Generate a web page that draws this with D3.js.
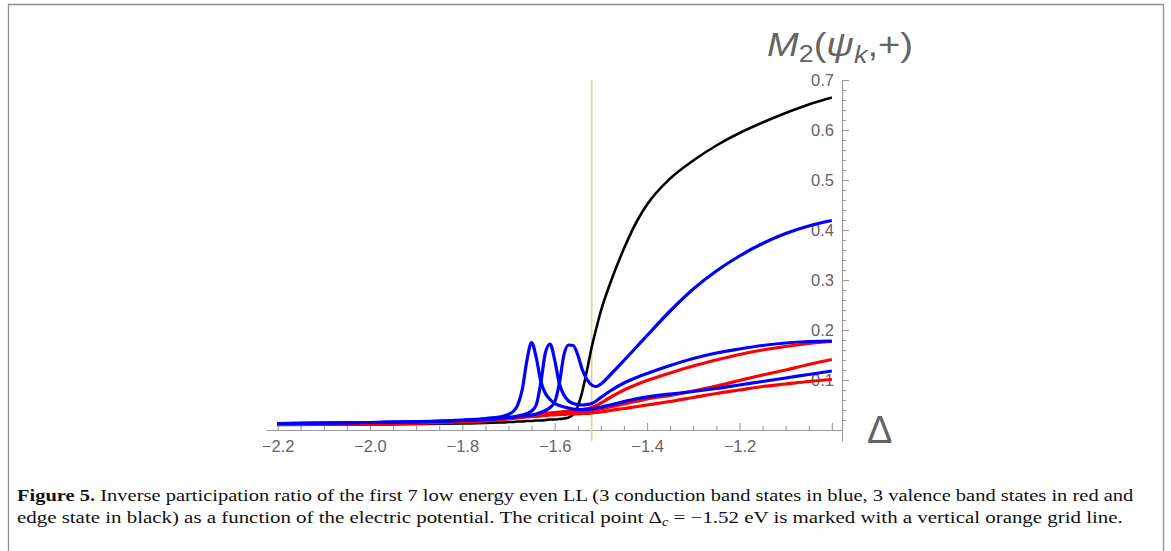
<!DOCTYPE html>
<html>
<head>
<meta charset="utf-8">
<script src="https://cdn.jsdelivr.net/npm/d3@7"></script>
<style>
  html, body { margin: 0; padding: 0; background: #fff; }
  svg { display: block; }
</style>
</head>
<body>
<svg id="fig" width="1171" height="551"></svg>
<script>
// Electric potential Δ (eV) at which the inverse participation ratio was sampled
const delta = [-2.2, -2.0, -1.8, -1.75, -1.72, -1.71, -1.7, -1.69, -1.68, -1.67, -1.66, -1.65,
  -1.64, -1.63, -1.62, -1.61, -1.6, -1.59, -1.58, -1.57, -1.56, -1.55, -1.54, -1.53, -1.52,
  -1.51, -1.5, -1.48, -1.45, -1.42, -1.4, -1.35, -1.3, -1.25, -1.2, -1.15, -1.1, -1.05, -1.0];

// Conduction band states (blue)
const conduction1 = [0.013, 0.015, 0.02, 0.023, 0.026, 0.028, 0.031, 0.037, 0.05, 0.082, 0.14, 0.175,
  0.145, 0.097, 0.073, 0.061, 0.053, 0.049, 0.046, 0.044, 0.042, 0.041, 0.041, 0.041, 0.042,
  0.044, 0.046, 0.05, 0.057, 0.063, 0.066, 0.072, 0.077, 0.083, 0.09, 0.097, 0.104, 0.111, 0.118];
const conduction2 = [0.013, 0.015, 0.019, 0.021, 0.023, 0.024, 0.025, 0.026, 0.028, 0.03, 0.033, 0.038,
  0.05, 0.095, 0.155, 0.172, 0.14, 0.093, 0.07, 0.058, 0.053, 0.051, 0.05, 0.051, 0.053,
  0.058, 0.065, 0.078, 0.094, 0.106, 0.113, 0.129, 0.143, 0.154, 0.162, 0.169, 0.174, 0.177, 0.178];
const conduction3 = [0.013, 0.015, 0.019, 0.021, 0.023, 0.024, 0.025, 0.026, 0.027, 0.028, 0.029, 0.03,
  0.032, 0.035, 0.039, 0.045, 0.056, 0.093, 0.15, 0.17, 0.169, 0.15, 0.12, 0.101, 0.09,
  0.087, 0.092, 0.11, 0.139, 0.169, 0.189, 0.238, 0.282, 0.318, 0.348, 0.373, 0.393, 0.408, 0.419];

// Valence band states (red)
const valence1 = [0.012, 0.014, 0.018, 0.02, 0.022, 0.023, 0.024, 0.025, 0.026, 0.027, 0.028, 0.029,
  0.03, 0.031, 0.033, 0.034, 0.035, 0.036, 0.037, 0.038, 0.039, 0.04, 0.041, 0.043, 0.045,
  0.049, 0.054, 0.065, 0.08, 0.092, 0.099, 0.114, 0.128, 0.14, 0.151, 0.16, 0.167, 0.173, 0.177];
const valence2 = [0.012, 0.013, 0.017, 0.019, 0.021, 0.022, 0.023, 0.024, 0.025, 0.026, 0.027, 0.028,
  0.029, 0.03, 0.031, 0.032, 0.033, 0.033, 0.034, 0.034, 0.035, 0.035, 0.036, 0.037, 0.038,
  0.04, 0.042, 0.046, 0.052, 0.058, 0.062, 0.069, 0.078, 0.088, 0.099, 0.11, 0.12, 0.131, 0.141];
const valence3 = [0.011, 0.012, 0.016, 0.018, 0.02, 0.021, 0.022, 0.023, 0.024, 0.025, 0.026, 0.027,
  0.027, 0.028, 0.029, 0.03, 0.03, 0.031, 0.031, 0.032, 0.032, 0.032, 0.033, 0.033, 0.034,
  0.035, 0.036, 0.039, 0.043, 0.047, 0.05, 0.057, 0.065, 0.073, 0.08, 0.087, 0.092, 0.097, 0.101];

// Edge state (black)
const edgeState = [0.01, 0.011, 0.013, 0.014, 0.015, 0.015, 0.016, 0.016, 0.017, 0.017, 0.018, 0.018,
  0.019, 0.019, 0.02, 0.021, 0.021, 0.022, 0.023, 0.025, 0.031, 0.047, 0.078, 0.12, 0.165,
  0.203, 0.238, 0.293, 0.363, 0.421, 0.451, 0.503, 0.539, 0.569, 0.594, 0.615, 0.634, 0.651, 0.665];

// Critical point Δc
const criticalDelta = -1.52;

// Tick values
const xMajorTicks = [-2.2, -2.0, -1.8, -1.6, -1.4, -1.2, -1.0];
const xMinorTicks = d3.range(-2.15, -1.0, 0.05).map(v => +v.toFixed(2)).filter(v => !xMajorTicks.some(m => Math.abs(m - v) < 1e-6));
const yMajorTicks = [0.1, 0.2, 0.3, 0.4, 0.5, 0.6, 0.7];
const yMinorTicks = d3.range(0.02, 0.7, 0.02).map(v => +v.toFixed(2)).filter(v => !yMajorTicks.some(m => Math.abs(m - v) < 1e-6));

const captionLine1 = " Inverse participation ratio of the first 7 low energy even LL (3 conduction band states in blue, 3 valence band states in red and";
const captionLine2a = "edge state in black) as a function of the electric potential. The critical point \u0394";
const captionLine2b = " = \u22121.52 eV is marked with a vertical orange grid line.";

const svg = d3.select("#fig");
const axisGray = "#9a9a9a";
const labelGray = "#646464";
const sansFont = "'Liberation Sans', Arial, sans-serif";

// Figure frame (open at the bottom)
svg.append("path")
  .attr("d", "M8.5,551 V4.5 H1163.5 V551")
  .attr("fill", "none").attr("stroke", "#8f8f8f").attr("stroke-width", 1.3);

const x = d3.scaleLinear().domain([-2.225, -0.978]).range([266, 842]);
const y = d3.scaleLinear().domain([-0.022, 0.7]).range([441, 80]);

const fmt = v => (Math.abs(v + 1.0) < 1e-9 ? "" : d3.format(".1f")(v).replace("-", "\u2212"));

// Horizontal axis through zero
const gx = svg.append("g").attr("transform", `translate(0,${y(0)})`);
gx.call(d3.axisBottom(x).tickValues(xMajorTicks).tickFormat(fmt).tickSizeInner(-7).tickSizeOuter(0).tickPadding(10));
gx.append("g").call(d3.axisBottom(x).tickValues(xMinorTicks).tickFormat("").tickSizeInner(-4).tickSizeOuter(0))
  .select(".domain").remove();

// Vertical axis on the right
const gy = svg.append("g").attr("transform", `translate(${x.range()[1]},0)`);
gy.call(d3.axisLeft(y).tickValues(yMajorTicks).tickFormat(d3.format(".1f")).tickSizeInner(-7).tickSizeOuter(0).tickPadding(8));
gy.append("g").call(d3.axisLeft(y).tickValues(yMinorTicks).tickFormat("").tickSizeInner(-4).tickSizeOuter(0))
  .select(".domain").remove();

svg.selectAll(".domain, .tick line").attr("stroke", axisGray).attr("stroke-width", 1.1);
svg.selectAll(".tick text")
  .attr("fill", labelGray)
  .style("font-family", sansFont)
  .style("font-size", "16.5px");

// Critical-point grid line
svg.append("line")
  .attr("x1", x(criticalDelta)).attr("x2", x(criticalDelta))
  .attr("y1", y.range()[1]).attr("y2", y.range()[0])
  .attr("stroke", "#ffc387").attr("stroke-width", 1.6);

// Curves
const series = [
  { values: edgeState, color: "#000000", width: 2.6 },
  { values: valence1, color: "#ff0000", width: 3.2 },
  { values: valence2, color: "#ff0000", width: 3.2 },
  { values: valence3, color: "#ff0000", width: 3.2 },
  { values: conduction1, color: "#0000ff", width: 3.2 },
  { values: conduction2, color: "#0000ff", width: 3.2 },
  { values: conduction3, color: "#0000ff", width: 3.2 }
];
const line = d3.line().x(d => x(d[0])).y(d => y(d[1])).curve(d3.curveMonotoneX);
svg.append("g").selectAll("path").data(series).join("path")
  .attr("d", s => line(delta.map((d, i) => [d, s.values[i]])))
  .attr("fill", "none")
  .attr("stroke", s => s.color)
  .attr("stroke-width", s => s.width)
  .attr("stroke-linejoin", "round");

// Axis labels
const yLab = svg.append("text")
  .attr("x", 0).attr("y", 0)
  .attr("fill", labelGray)
  .style("font-family", sansFont)
  .style("font-size", "34px");
yLab.append("tspan").attr("font-style", "italic").text("M");
yLab.append("tspan").attr("dy", 6).style("font-size", "24px").text("2");
yLab.append("tspan").attr("dy", -6).text("(");
yLab.append("tspan").attr("font-style", "italic").text("\u03c8");
yLab.append("tspan").attr("dy", 7).attr("font-style", "italic").style("font-size", "24px").text("k");
yLab.append("tspan").attr("dy", -7).text(",+)");
{
  const w = yLab.node().getComputedTextLength();
  yLab.attr("transform", `translate(767,56) scale(${146 / w},1)`);
}

svg.append("text")
  .attr("x", 867).attr("y", 443)
  .attr("fill", labelGray)
  .style("font-family", sansFont)
  .style("font-size", "38px")
  .text("\u0394");

// Caption
const capFont = "'Liberation Serif', 'Times New Roman', serif";
function captionLine(yBase, x0, x1, build) {
  const t = svg.append("text").attr("x", 0).attr("y", 0)
    .attr("fill", "#111")
    .style("font-family", capFont).style("font-size", "17.5px");
  build(t);
  const w = t.node().getComputedTextLength();
  t.attr("transform", `translate(${x0},${yBase}) scale(${(x1 - x0) / w},1)`);
}
captionLine(501, 17, 1134, t => {
  t.append("tspan").attr("font-weight", "bold").text("Figure 5.");
  t.append("tspan").text(captionLine1);
});
captionLine(523, 17, 1124, t => {
  t.append("tspan").text(captionLine2a);
  t.append("tspan").attr("dy", 3).attr("font-style", "italic").style("font-size", "12px").text("c");
  t.append("tspan").attr("dy", -3).text(captionLine2b);
});
</script>
</body>
</html>
